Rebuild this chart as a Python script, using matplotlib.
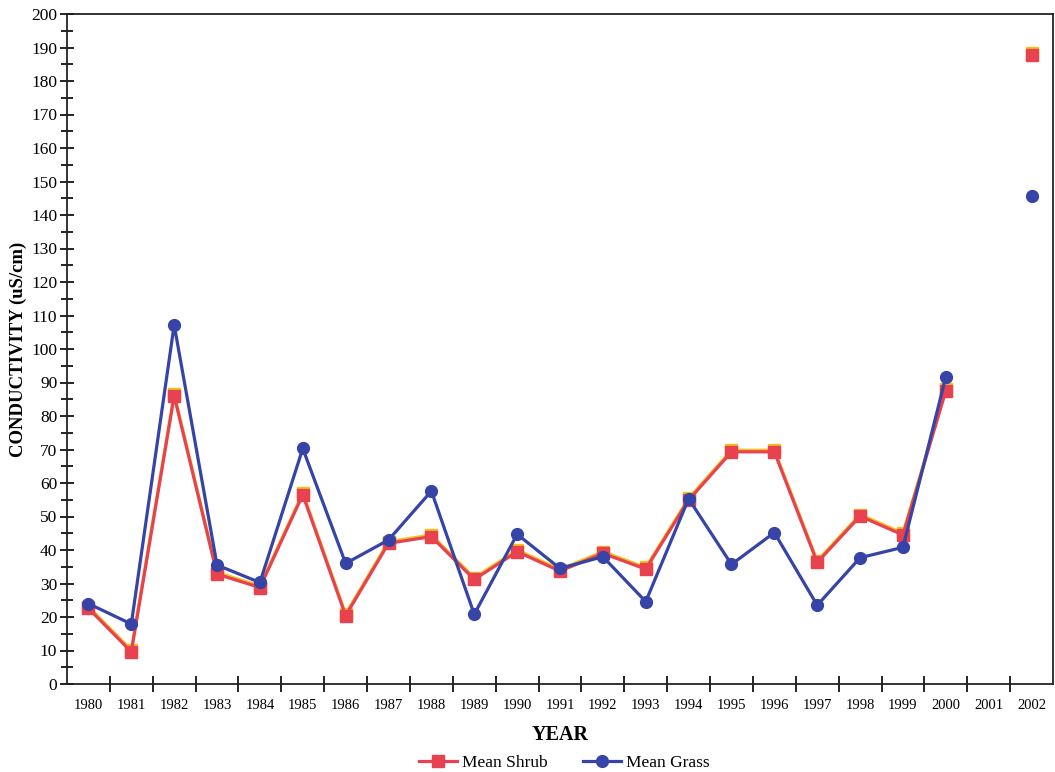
import numpy as np
import matplotlib
matplotlib.use("Agg")
import matplotlib.pyplot as plt
import matplotlib.transforms as mtransforms
from matplotlib.ticker import MultipleLocator, FixedLocator, FixedFormatter, NullFormatter

years = [str(y) for y in range(1980, 2003)]

mean_shrub = [22.6, 9.6, 86.0, 32.8, 28.8, 56.5, 20.4, 42.0, 44.0, 31.2,
              39.5, 33.7, 39.0, 34.3, 54.9, 69.3, 69.3, 36.3, 50.1, 44.5,
              87.5, np.nan, 187.8]
mean_grass = [24.0, 17.9, 107.2, 35.5, 30.3, 70.3, 36.0, 43.0, 57.6, 20.8,
              44.7, 34.5, 38.0, 24.6, 55.3, 35.7, 45.2, 23.5, 37.7, 40.8,
              91.7, np.nan, 145.7]

RED = "#e8414f"
YELLOW = "#f2c21b"
BLUE = "#3544a6"

plt.rcParams["font.family"] = ["Liberation Serif", "DejaVu Serif"]

fig = plt.figure(figsize=(10.55, 7.72), dpi=100)
ax = fig.add_axes([67 / 1055, 1 - 684 / 772, (1053 - 67) / 1055, (684 - 14) / 772])

x = np.arange(len(years))

# slight yellow fringe above the shrub series
shift = mtransforms.offset_copy(ax.transData, fig=fig, x=0, y=1.6, units="dots")
ax.plot(x, mean_shrub, color=YELLOW, lw=2.3, marker="s", ms=8.5,
        transform=shift, zorder=2)
line_s, = ax.plot(x, mean_shrub, color=RED, lw=2.3, marker="s", ms=8.5,
                  mec=RED, label="Mean Shrub", zorder=3)
line_g, = ax.plot(x, mean_grass, color=BLUE, lw=2.3, marker="o", ms=8.5,
                  mec=BLUE, label="Mean Grass", zorder=4)

ax.set_xlim(-0.5, len(years) - 0.5)
ax.set_ylim(0, 200)

ax.yaxis.set_major_locator(MultipleLocator(10))
ax.yaxis.set_minor_locator(MultipleLocator(5))
ax.tick_params(axis="y", which="major", direction="inout", length=10, width=1.2,
               labelsize=12.5, pad=2)
ax.tick_params(axis="y", which="minor", direction="inout", length=8, width=1.2)

# category labels centred, ticks on the boundaries between years
ax.xaxis.set_major_locator(FixedLocator(x))
ax.xaxis.set_major_formatter(FixedFormatter(years))
ax.xaxis.set_minor_locator(FixedLocator(np.arange(0.5, len(years) - 1, 1.0)))
ax.xaxis.set_minor_formatter(NullFormatter())
ax.tick_params(axis="x", which="major", length=0, labelsize=10.5, pad=11)
ax.tick_params(axis="x", which="minor", direction="inout", length=11, width=1.2)

for side in ["left", "bottom", "top", "right"]:
    ax.spines[side].set_linewidth(1.3)
    ax.spines[side].set_color("#222222")

ax.set_ylabel("CONDUCTIVITY (uS/cm)", fontsize=13.5, fontweight="bold", labelpad=3)
ax.set_xlabel("YEAR", fontsize=14.5, fontweight="bold", labelpad=9)

fig.legend(handles=[line_s, line_g], loc="lower center", ncol=2, frameon=False,
           fontsize=12.5, bbox_to_anchor=(0.535, -0.019), handlelength=2.2,
           columnspacing=2.0, handletextpad=0.3)

fig.savefig("out.png", dpi=100, facecolor="white")
